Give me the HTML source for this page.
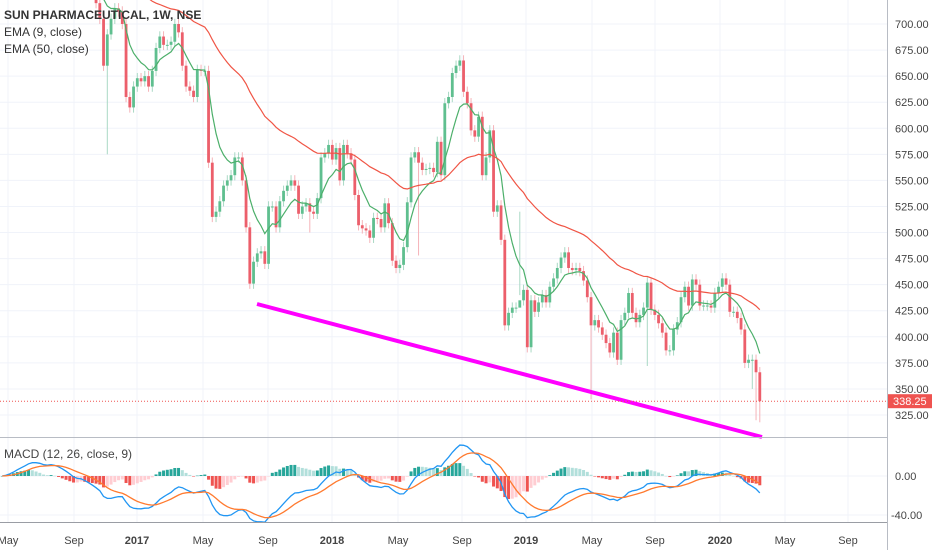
<!DOCTYPE html>
<html><head><meta charset="utf-8"><style>
html,body{margin:0;padding:0;background:#fff;}
svg{display:block;font-family:"Liberation Sans",sans-serif;}
</style></head><body>
<svg id="chart" width="932" height="550" viewBox="0 0 932 550">
<defs>
<clipPath id="mainClip"><rect x="0" y="0" width="887" height="437"/></clipPath>
<clipPath id="macdClip"><rect x="0" y="438" width="887" height="84"/></clipPath>
</defs>
<g id="grid"></g>
<g id="candles" clip-path="url(#mainClip)"></g>
<g id="emas" clip-path="url(#mainClip)"></g>
<line x1="257" y1="304" x2="762" y2="437" stroke="#ff00ff" stroke-width="4"/>
<g id="macd" clip-path="url(#macdClip)"></g>
<g id="axes"></g>
<text x="4" y="19" font-size="12" font-weight="bold" fill="#333">SUN PHARMACEUTICAL, 1W, NSE</text>
<text x="4" y="36" font-size="12" fill="#333">EMA (9, close)</text>
<text x="4" y="53" font-size="12" fill="#333">EMA (50, close)</text>
<text x="4" y="458" font-size="12" fill="#444">MACD (12, 26, close, 9)</text>
</svg>
<script>
const closes = [
760,770,780,790,800,805,810,820,815,805,800,790,800,810,800,790,780,770,760,750,760,770,750,740,730,720,705,
660,690,705,715,712,700,630,620,640,648,645,650,640,655,677,688,680,680,683,700,692,660,640,636,630,656,655,655,567,515,520,530,545,550,555,572,572,550,505,451,472,480,482,470,525,525,505,530,540,545,550,545,518,525,
528,520,518,533,572,576,584,570,581,550,584,576,570,536,507,504,502,495,514,513,505,528,509,473,466,469,486,529,572,577,567,560,561,562,558,587,555,624,630,653,660,665,635,624,598,592,611,555,572,598,520,526,493,411,423,428,428,435,
445,390,435,424,433,440,433,448,456,466,476,481,466,464,466,463,454,438,411,416,409,402,394,385,404,378,416,423,442,423,414,421,428,452,426,421,413,404,387,387,407,414,438,448,430,455,450,430,430,430,428,442,448,456,450,424,424,418,407,375,378,378,366,338.25];
const lowIdx = [28, 82, 111, 138, 157, 172, 200, 201, 202];
const lowVal = [575, 500, 478, 520, 340, 372, 350, 320, 318];
const priceTicks = [700,675,650,625,600,575,550,525,500,475,450,425,400,375,350,325];
const macdTicks = [0,-40];
const timeLabels = ["May","Sep","2017","May","Sep","2018","May","Sep","2019","May","Sep","2020","May","Sep"];
const timeLabelX = [8,74,137,203,268,332,398,462,526,592,655,720,785,848];

const NS="http://www.w3.org/2000/svg";
function mk(tag,attrs,parent){const e=document.createElementNS(NS,tag);for(const k in attrs)e.setAttribute(k,attrs[k]);parent.appendChild(e);return e;}
const xOf=i=>2.3+i*3.75;
const yP=p=>24+(700-p)*1.0427;
const yM=v=>476-v*0.975;

const grid=document.getElementById('grid');
priceTicks.forEach(p=>{const l=mk('line',{x1:0,x2:887,y1:yP(p),y2:yP(p),stroke:'#f0f3fa','stroke-width':1},grid);

});
timeLabelX.forEach(x=>{const l=mk('line',{x1:x,x2:x,y1:0,y2:522,stroke:'#f0f3fa','stroke-width':1},grid);

});
macdTicks.forEach(v=>{const l=mk('line',{x1:0,x2:887,y1:yM(v),y2:yM(v),stroke:'#f0f3fa','stroke-width':1},grid);

});

const cg=document.getElementById('candles');
for(let i=0;i<closes.length;i++){
  const c=closes[i], o=i>0?closes[i-1]:c;
  const up=c>=o;
  let hi=Math.max(o,c)+5, lo=Math.min(o,c)-5;
  const k=lowIdx.indexOf(i); if(k>=0) lo=lowVal[k];
  const x=xOf(i);
  const w=mk('line',{x1:x,x2:x,y1:yP(hi),y2:yP(lo),stroke:up?'#a9d8c4':'#f5b3b8','stroke-width':1},cg);
  
  
  const top=yP(Math.max(o,c)), bot=yP(Math.min(o,c));
  const r=mk('rect',{x:x-1.4,y:top,width:2.8,height:Math.max(1,bot-top),fill:up?'#5fbf8f':'#ec5f6b'},cg);
  
  
}
function ema(arr,n){const a=2/(n+1);const out=[];let e=arr[0];arr.forEach((v,i)=>{e=i?a*v+(1-a)*e:v;out.push(e);});return out;}
const e9=ema(closes,9), e50=ema(closes,50);
const eg=document.getElementById('emas');
function poly(vals,yf,color,parent,name,w){const pts=vals.map((v,i)=>xOf(i).toFixed(1)+','+yf(v).toFixed(1)).join(' ');
const p=mk('polyline',{points:pts,fill:'none',stroke:color,'stroke-width':w||1.2},parent);

}
poly(e9,yP,'#4caf6a',eg,'ema9-line');
poly(e50,yP,'#f05545',eg,'ema50-line');

const e12=ema(closes,12), e26=ema(closes,26);
const macd=e12.map((v,i)=>v-e26[i]);
const sig=ema(macd,9);
const mg=document.getElementById('macd');
for(let i=0;i<macd.length;i++){
  const h=macd[i]-sig[i], hp=i?macd[i-1]-sig[i-1]:h;
  let col = h>=0 ? (h>=hp?'#26a69a':'#b2dfdb') : (h<hp?'#ef5350':'#ffcdd2');
  const y0=yM(0), y1=yM(h);
  const r=mk('rect',{x:xOf(i)-1.5,y:Math.min(y0,y1),width:3,height:Math.max(0.5,Math.abs(y1-y0)),fill:col},mg);
  
  
}
poly(macd,yM,'#2196f3',mg,'macd-line',1.3);
poly(sig,yM,'#ff7a2f',mg,'signal-line',1.3);

const ax=document.getElementById('axes');
[[0,437.5,887,437.5,'#b8bcc4'],[0,522.5,887,522.5,'#9a9da4'],[887.5,0,887.5,550,'#b8bcc4']].forEach(a=>{const l=mk('line',{x1:a[0],y1:a[1],x2:a[2],y2:a[3],stroke:a[4],'stroke-width':1},ax);

});
priceTicks.forEach(p=>{const t=mk('text',{x:895,y:yP(p)+4,'font-size':11,fill:'#444'},ax);t.textContent=p.toFixed(2);

});
macdTicks.forEach(v=>{const t=mk('text',{x:v<0?891:895,y:yM(v)+4,'font-size':11,fill:'#444'},ax);t.textContent=v.toFixed(2);

});
timeLabels.forEach((s,i)=>{const bold=/^\d/.test(s);const t=mk('text',{x:timeLabelX[i],y:544,'font-size':11,fill:'#444','text-anchor':'middle','font-weight':bold?'bold':'normal'},ax);t.textContent=s;

});
const last=closes[closes.length-1];
const dl=mk('line',{x1:0,x2:887,y1:yP(last),y2:yP(last),stroke:'#ef5350','stroke-width':1,'stroke-dasharray':'1,2'},ax);


const lb=mk('rect',{x:888,y:yP(last)-7,width:44,height:14,fill:'#ef5350'},ax);


const lt=mk('text',{x:893,y:yP(last)+4,'font-size':11,fill:'#fff'},ax);lt.textContent=last.toFixed(2);


</script>
</body></html>
